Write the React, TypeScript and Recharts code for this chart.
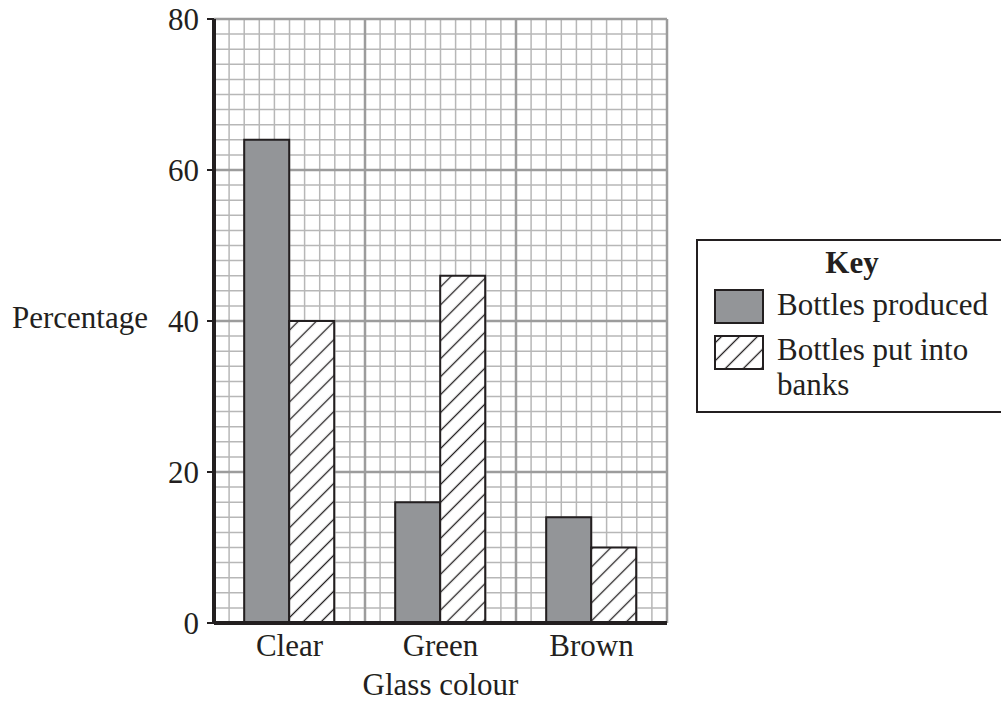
import React from 'react';
import { BarChart, Bar, XAxis, YAxis, CartesianGrid, Legend, Label } from 'recharts';

const categories = ['Clear', 'Green', 'Brown'];
const bottlesProduced = [64, 16, 14];
const bottlesPutIntoBanks = [40, 46, 10];
const yTicks = [0, 20, 40, 60, 80];
const seriesNames = ['Bottles produced', 'Bottles put into banks'];
const keyTitle = 'Key';
const yAxisTitle = 'Percentage';
const xAxisTitle = 'Glass colour';

const MINOR_STEP = 2; // percentage units per small square
const MINOR_PER_CATEGORY = 10; // small squares across one category

const data = categories.map((name, i) => ({
  name,
  produced: bottlesProduced[i],
  banks: bottlesPutIntoBanks[i],
}));

const FONT = '"Liberation Serif", "Times New Roman", serif';
const INK = '#231f20';
const GREY = '#939598';

const yMin = yTicks[0];
const yMax = yTicks[yTicks.length - 1];

const minorValues: number[] = [];
for (let v = yMin; v <= yMax; v += MINOR_STEP) minorValues.push(v);

const minorHorizontal = ({ yAxis, offset }: any) => {
  if (yAxis && typeof yAxis.scale === 'function') {
    return minorValues.map((v) => yAxis.scale(v));
  }
  return minorValues.map((v) => offset.top + offset.height * (1 - (v - yMin) / (yMax - yMin)));
};

const minorVertical = ({ offset }: any) => {
  const n = categories.length * MINOR_PER_CATEGORY;
  const pts: number[] = [];
  for (let i = 0; i <= n; i++) pts.push(offset.left + (offset.width * i) / n);
  return pts;
};

const majorVertical = ({ offset }: any) => {
  const n = categories.length;
  const pts: number[] = [];
  for (let i = 0; i <= n; i++) pts.push(offset.left + (offset.width * i) / n);
  return pts;
};

const Swatch = ({ hatched }: { hatched: boolean }) => (
  <svg width={50} height={35} style={{ display: 'block' }}>
    <defs>
      <pattern id="hatchKey" patternUnits="userSpaceOnUse" width="12.7" height="12.7" patternTransform="rotate(45)">
        <rect width="12.7" height="12.7" fill="#fff" />
        <line x1="6.35" y1="0" x2="6.35" y2="12.7" stroke={INK} strokeWidth="1.3" />
      </pattern>
    </defs>
    <rect x={1} y={1} width={48} height={33} fill={hatched ? 'url(#hatchKey)' : GREY} stroke={INK} strokeWidth={2} />
  </svg>
);

const KeyLegend = (props: any) => {
  const payload = (props.payload || []) as any[];
  const items = payload.length ? payload : seriesNames.map((n, i) => ({ value: n, dataKey: i === 0 ? 'produced' : 'banks' }));
  return (
    <div
      style={{
        position: 'relative',
        width: 305,
        height: 174,
        boxSizing: 'border-box',
        borderLeft: `2px solid ${INK}`,
        borderTop: `2px solid ${INK}`,
        borderBottom: `2px solid ${INK}`,
        fontFamily: FONT,
        fontSize: 31,
        lineHeight: '35px',
        color: INK,
        background: '#fff',
      }}
    >
      <div style={{ position: 'absolute', left: 154, top: 4, transform: 'translateX(-50%)', fontWeight: 'bold', whiteSpace: 'nowrap' }}>
        {keyTitle}
      </div>
      {items.map((entry: any, i: number) => (
        <React.Fragment key={i}>
          <div style={{ position: 'absolute', left: 16, top: 48 + i * 46 }}>
            <Swatch hatched={entry.dataKey === 'banks'} />
          </div>
          <div style={{ position: 'absolute', left: 79, top: 46 + i * 45, width: 222 }}>{entry.value}</div>
        </React.Fragment>
      ))}
    </div>
  );
};

export default function App() {
  return (
    <div style={{ position: 'absolute', left: 0, top: 0, width: 1001, height: 702, background: '#fff' }}>
      <BarChart
        width={1001}
        height={702}
        data={data}
        margin={{ top: 19, right: 334, bottom: 0, left: 0 }}
        barCategoryGap="20%"
        barGap={0}
      >
        <defs>
          <pattern id="hatchBars" patternUnits="userSpaceOnUse" width="12.7" height="12.7" patternTransform="rotate(45)">
            <rect width="12.7" height="12.7" fill="#fff" />
            <line x1="6.35" y1="0" x2="6.35" y2="12.7" stroke={INK} strokeWidth="1.3" />
          </pattern>
        </defs>
        <CartesianGrid
          stroke="#b7b7b7"
          strokeWidth={1.5}
          horizontalCoordinatesGenerator={minorHorizontal}
          verticalCoordinatesGenerator={minorVertical}
        />
        <CartesianGrid
          stroke="#9c9c9c"
          strokeWidth={2.5}
          verticalCoordinatesGenerator={majorVertical}
        />
        <Bar dataKey="produced" name={seriesNames[0]} fill={GREY} stroke={INK} strokeWidth={2} isAnimationActive={false} />
        <Bar dataKey="banks" name={seriesNames[1]} fill="url(#hatchBars)" stroke={INK} strokeWidth={2} isAnimationActive={false} />
        <XAxis
          dataKey="name"
          height={79}
          tickLine={false}
          tickSize={0}
          tickMargin={11}
          axisLine={{ stroke: INK, strokeWidth: 4 }}
          tick={{ fontSize: 31, fontFamily: FONT, fill: INK }}
        >
          <Label value={xAxisTitle} position="insideBottom" offset={7} style={{ fontSize: 31, fontFamily: FONT, fill: INK }} />
        </XAxis>
        <YAxis
          width={214}
          domain={[yMin, yMax]}
          ticks={yTicks}
          interval={0}
          tickSize={7}
          tickMargin={8}
          axisLine={{ stroke: INK, strokeWidth: 4 }}
          tickLine={{ stroke: INK, strokeWidth: 2 }}
          tick={{ fontSize: 31, fontFamily: FONT, fill: INK }}
        >
          <Label value={yAxisTitle} position="insideLeft" offset={12} dy={-4} style={{ fontSize: 31, fontFamily: FONT, fill: INK, textAnchor: 'start' }} />
        </YAxis>
        <Legend
          layout="horizontal"
          align="center"
          verticalAlign="middle"
          wrapperStyle={{ position: 'absolute', left: 696, top: 239, width: 305, height: 174, margin: 0, padding: 0 }}
          content={<KeyLegend />}
        />
      </BarChart>
    </div>
  );
}
